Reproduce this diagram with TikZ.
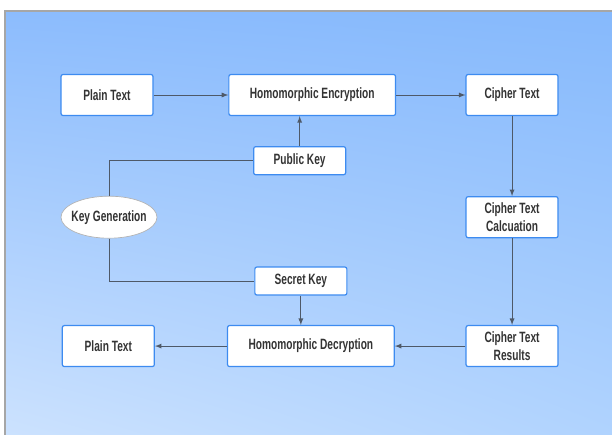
\documentclass[tikz,border=0pt]{standalone}
\usepackage{fontspec}
\setmainfont{Liberation Sans}[FakeStretch=0.68]
\usepackage{xcolor}
\usepackage{tikz}
\usetikzlibrary{shapes,arrows,positioning,calc,shapes.geometric,shadings}

\definecolor{boxline}{HTML}{3D8BF0}
\definecolor{wire}{HTML}{4E5968}
\definecolor{txt}{HTML}{333333}
\definecolor{bgul}{HTML}{8CBCFD}
\definecolor{bgur}{HTML}{86B9FC}
\definecolor{bgll}{HTML}{CCE2FE}
\definecolor{bglr}{HTML}{B0D3FE}

\begin{document}
\begin{tikzpicture}[
  x=0.75pt, y=-0.75pt,
  node distance=0.8cm,
  box/.style={rectangle, draw=boxline, line width=0.9pt, fill=white, rounded corners=1.5pt,
    minimum width=69pt, minimum height=30.75pt, align=center, inner sep=1pt,
    font=\fontsize{11.2}{13.5}\selectfont\bfseries, text=txt},
  widebox/.style={box, minimum width=125pt},
  keybox/.style={box, minimum height=21pt},
  keygen/.style={ellipse, draw=gray!60, line width=0.5pt, fill=white, minimum width=72pt,
    minimum height=31.5pt, inner xsep=-5pt, inner ysep=0pt,
    font=\fontsize{11.2}{13.5}\selectfont\bfseries, text=txt},
  flow/.style={->, >=latex, draw=wire, line width=0.7pt},
  link/.style={draw=wire, line width=0.7pt}
]

% background
\useasboundingbox (0,0) rectangle (612,435);
\fill[white] (0,0) rectangle (612,435);
\shade[upper left=bgul, upper right=bgur, lower left=bgll, lower right=bglr]
  (5,11) rectangle (612,435);
\draw[gray!70, line width=0.8pt] (5,435) -- (5,11) -- (612,11);

% top row
\node[box] (plain_in) at (107,95) {Plain Text};
\node[widebox, right=56pt of plain_in] (enc) {Homomorphic Encryption};
\node[box, right=52pt of enc] (cipher) {Cipher Text};
\draw[flow] (plain_in) -- (enc);
\draw[flow] (enc) -- (cipher);

% right column
\node[box, below=60pt of cipher] (calc) {Cipher Text\\Calcuation};
\draw[flow] (cipher) -- (calc);

\node[box, below=65pt of calc] (results) {Cipher Text\\Results};
\draw[flow] (calc) -- (results);

% bottom row
\node[widebox, left=53pt of results] (dec) {Homomorphic Decryption};
\draw[flow] (results) -- (dec);

\node[box, left=54pt of dec] (plain_out) {Plain Text};
\draw[flow] (dec) -- (plain_out);

% keys
\node[keybox, below=22.5pt of enc, xshift=-9.4pt] (pubkey) {Public Key};
\draw[flow] (pubkey) -- (pubkey |- enc.south);

\node[keybox, above=22pt of dec, xshift=-7.5pt] (seckey) {Secret Key};
\draw[flow] (seckey) -- (seckey |- dec.north);

\node[keygen, xshift=1.5pt] (keygen) at (plain_in |- calc) {Key Generation};
\draw[link] (keygen.north) |- (pubkey.west);
\draw[link] (keygen.south) |- (seckey.west);

\end{tikzpicture}
\end{document}
